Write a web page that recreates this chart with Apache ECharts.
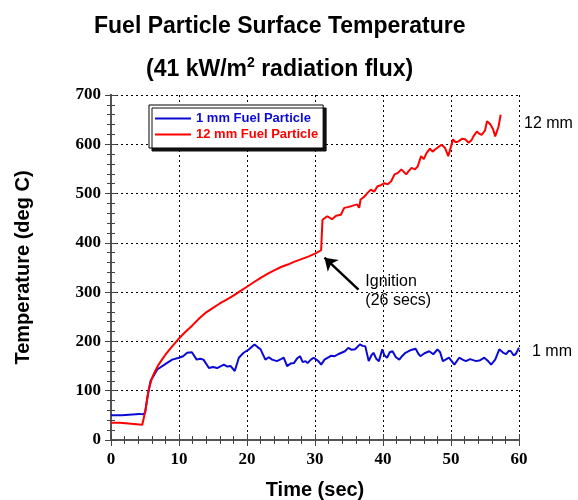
<!DOCTYPE html>
<html><head><meta charset="utf-8">
<script src="https://cdn.jsdelivr.net/npm/echarts@6/dist/echarts.min.js"></script>
<style>html,body{margin:0;padding:0;background:#fff}#c{width:578px;height:500px}</style>
</head><body><div id="c"></div>
<script>
var xTicks = [0, 10, 20, 30, 40, 50, 60];
var yTicks = [0, 100, 200, 300, 400, 500, 600, 700];
var seriesNames = ['1 mm Fuel Particle', '12 mm Fuel Particle'];
var blueTime = [0,1.6,1.7,4.2,4.3,4.7,5.0,5.3,5.8,6.8,8.2,9.0,10.0,10.6,11.2,11.9,12.6,13.1,13.6,14.4,15.0,15.6,16.6,17.1,17.6,18.2,18.8,19.5,20.3,21.1,21.6,22.0,22.7,23.2,23.7,24.4,25.0,25.4,25.9,26.4,26.9,27.4,27.8,28.2,28.6,28.9,29.4,29.8,30.5,30.9,31.4,31.9,32.4,32.9,33.4,33.9,34.4,34.9,35.4,35.9,36.6,37.0,37.4,37.9,38.3,38.6,39.0,39.4,39.9,40.2,40.6,41.0,41.4,41.9,42.4,42.8,43.3,44.0,44.8,45.2,45.5,46.1,46.8,47.4,48.0,48.4,48.8,49.2,49.7,50.1,50.5,51.2,51.7,52.2,52.8,53.7,54.3,54.9,55.4,55.9,56.5,57.1,57.6,58.1,58.5,58.8,59.2,59.5,60];
var blueTemp = [50,50,53,53,50,52,55,82,119,143,156,163,167,170,177,178,163,165,163,146,148,146,153,149,150,140,167,177,184,194,188,184,163,168,163,160,164,167,150,155,156,166,170,158,160,156,163,167,160,153,163,167,171,170,174,177,180,187,183,184,194,191,190,160,172,177,165,160,184,172,167,178,180,168,163,170,177,182,185,175,170,176,180,174,184,178,160,163,167,160,153,167,163,160,164,160,162,167,161,153,163,184,178,174,181,180,172,174,187];
var redTime = [0,1.3,1.5,4.6,5.1,5.5,6.0,6.5,7.0,7.5,8.0,9.0,10,11,12,13,14,15,16,17,18,19,20,21,22,23,24,25,26,27,28,29,30,30.9,31.1,31.8,32.5,33.1,33.8,34.3,35,35.7,36.2,36.5,36.7,37.2,37.7,38.2,38.7,39.2,39.7,40.2,40.7,41.2,41.7,42.2,42.7,43.4,43.8,44.2,44.7,45.1,45.6,46.0,46.4,46.9,47.3,47.6,48.1,48.6,49.1,49.6,50.3,50.7,51.1,51.6,52.1,52.6,53.0,53.3,53.8,54.2,54.5,55.0,55.3,55.8,56.2,56.5,57.0,57.3];
var redTemp = [35,35,31,31,62,100,125,140,153,163,173,190,206,220,233,247,259,268,277,285,293,302,311,320,329,337,344,351,356,362,367,372,378,385,447,454,448,455,457,471,473,476,478,471,488,493,501,508,504,515,517,521,519,525,539,542,549,539,546,552,549,555,576,570,582,591,585,589,594,599,593,576,610,604,606,611,610,603,608,616,626,621,619,628,647,640,630,616,636,660];
var arrowFrom = [36.4, 305];
var arrowTo = [31.4, 370];
var ignitionLabel = [37.4, 303];

function pairs(a, b) { return a.map(function (v, i) { return [v, b[i]]; }); }

var blue = '#0a0ad2', red = '#ff0000';
var font = 'Liberation Sans, Arial, sans-serif';
var serif = 'Liberation Serif, Times New Roman, serif';
var tickLabel = { fontFamily: serif, fontWeight: 'bold', fontSize: 17, color: '#000' };

function xAx(pos, show) {
  return {
    type: 'value', position: pos, min: xTicks[0], max: xTicks[xTicks.length - 1], interval: 10,
    axisLine: { show: true, lineStyle: { color: '#555', width: 2 } },
    axisTick: { show: true, inside: true, length: 6, lineStyle: { color: '#444' } },
    minorTick: { show: true, splitNumber: 5, length: 4, lineStyle: { color: '#444' } },
    splitLine: { show: show, lineStyle: { color: '#000', type: [2, 3], width: 1 } },
    axisLabel: Object.assign({ show: show, margin: 11 }, tickLabel),
    name: show ? 'Time (sec)' : '', nameLocation: 'middle', nameGap: 40,
    nameTextStyle: { fontFamily: font, fontWeight: 'bold', fontSize: 20, color: '#000' }
  };
}
function yAx(pos, show) {
  return {
    type: 'value', position: pos, min: yTicks[0], max: yTicks[yTicks.length - 1], interval: 100,
    axisLine: { show: true, lineStyle: { color: '#555', width: 2 } },
    axisTick: { show: true, inside: true, length: 6, lineStyle: { color: '#444' } },
    minorTick: { show: true, splitNumber: 5, length: 4, lineStyle: { color: '#444' } },
    splitLine: { show: show, lineStyle: { color: '#000', type: [2, 3], width: 1 } },
    axisLabel: Object.assign({ show: show, margin: 10 }, tickLabel),
    name: show ? 'Temperature (deg C)' : '', nameLocation: 'middle', nameGap: 78,
    nameTextStyle: { fontFamily: font, fontWeight: 'bold', fontSize: 20, color: '#000' }
  };
}

var chart = echarts.init(document.getElementById('c'));
chart.setOption({
  animation: false,
  backgroundColor: '#fff',
  title: [
    { text: 'Fuel Particle Surface Temperature', left: 89, top: 10,
      textStyle: { fontFamily: font, fontWeight: 'bold', fontSize: 23, color: '#000' } },
    { text: '{a|(41 kW/m}{s|2}{a| radiation flux)}', left: 141, top: 51,
      textStyle: { rich: {
        a: { fontFamily: font, fontWeight: 'bold', fontSize: 23, color: '#000' },
        s: { fontFamily: font, fontWeight: 'bold', fontSize: 14, color: '#000', padding: [0, 0, 13, 0] }
      } } }
  ],
  grid: { left: 111, right: 59, top: 95, bottom: 60, containLabel: false, outerBoundsMode: 'none' },
  xAxis: [xAx('bottom', true), xAx('top', false)],
  yAxis: [yAx('left', true), yAx('right', false)],
  legend: {
    orient: 'vertical', left: 149, top: 105, itemGap: 3, itemWidth: 36, itemHeight: 2, icon: 'rect',
    padding: [7, 5, 7, 6], backgroundColor: '#fff', borderColor: '#000', borderWidth: 1,
    shadowColor: '#111', shadowOffsetX: 3, shadowOffsetY: 3, shadowBlur: 0,
    textStyle: { fontFamily: font, fontWeight: 'bold', fontSize: 13 },
    data: [
      { name: seriesNames[0], textStyle: { color: blue } },
      { name: seriesNames[1], textStyle: { color: red } }
    ]
  },
  graphic: [
    { type: 'text', left: 524, top: 116, style: { text: '12 mm', fontFamily: font, fontSize: 16, fill: '#000' } },
    { type: 'text', left: 532, top: 344, style: { text: '1 mm', fontFamily: font, fontSize: 16, fill: '#000' } }
  ],
  series: [
    { name: seriesNames[0], type: 'line', data: pairs(blueTime, blueTemp), symbol: 'none',
      lineStyle: { color: blue, width: 2 }, itemStyle: { color: blue } },
    { name: seriesNames[1], type: 'line', data: pairs(redTime, redTemp), symbol: 'none',
      lineStyle: { color: red, width: 2 }, itemStyle: { color: red },
      markLine: { silent: true, symbol: ['none', 'arrow'], symbolSize: 12,
        lineStyle: { color: '#000', width: 2.5, type: 'solid' }, label: { show: false },
        data: [[{ coord: arrowFrom }, { coord: arrowTo }]] },
      markPoint: { silent: true, symbol: 'circle', symbolSize: 0,
        data: [{ coord: ignitionLabel, value: 0 }],
        label: { show: true, position: 'right', distance: 0, formatter: 'Ignition\n(26 secs)',
          fontFamily: font, fontSize: 16, lineHeight: 19, color: '#000', align: 'left' } } }
  ]
});
</script></body></html>
